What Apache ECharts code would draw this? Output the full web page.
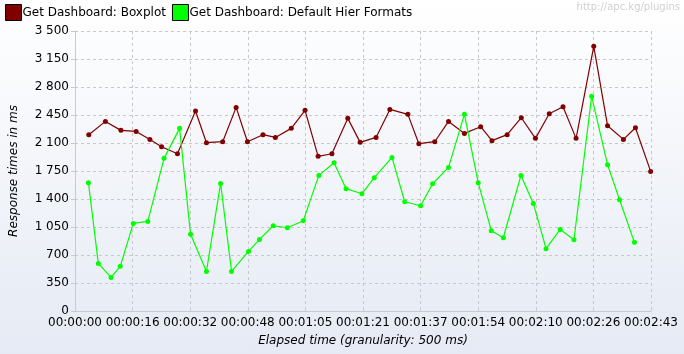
<!DOCTYPE html>
<html lang="en">
<head>
    <meta charset="UTF-8">
    <title>Response times</title>
    <script src="https://cdn.jsdelivr.net/npm/echarts@6/dist/echarts.min.js"></script>
    <style>
        html, body { margin: 0; padding: 0; }
        #main { width: 684px; height: 354px; background: linear-gradient(#ffffff, #e5eaf4); }
    </style>
</head>
<body>
<div id="main"></div>
<script type="text/javascript">
    // elapsed seconds and response times (ms)
    var boxplotTimes = [3.9, 8.6, 13.0, 17.3, 21.2, 24.5, 29.0, 34.1, 37.2, 41.8, 45.6, 48.8, 53.2,
        56.7, 61.2, 65.1, 68.8, 72.7, 77.2, 80.7, 85.2, 89.1, 94.2, 97.3, 101.8, 105.7, 110.2,
        114.8, 118.0, 122.3, 126.3, 130.3, 134.2, 138.1, 141.8, 146.8, 150.7, 155.2, 158.6, 162.9];
    var boxplotValues = [2204, 2370, 2258, 2245, 2145, 2054, 1966, 2500, 2104, 2116, 2545, 2116, 2204,
        2170, 2283, 2508, 1933, 1966, 2408, 2108, 2170, 2520, 2458, 2091, 2116, 2370, 2220,
        2304, 2129, 2204, 2416, 2158, 2466, 2554, 2158, 3308, 2316, 2145, 2291, 1745];

    var hierTimes = [3.8, 6.6, 10.2, 12.8, 16.5, 20.6, 25.2, 29.6, 32.7, 37.2, 41.2, 44.3, 49.1, 52.2,
        56.1, 60.1, 64.6, 69.0, 73.3, 76.7, 81.2, 84.7, 89.7, 93.3, 97.8, 101.2, 105.7, 110.2,
        114.1, 117.8, 121.2, 126.2, 129.7, 133.3, 137.3, 141.2, 146.2, 150.7, 154.1, 158.3];
    var hierValues = [1604, 595, 420, 558, 1095, 1120, 1908, 2283, 958, 495, 1595, 495, 745, 895,
        1066, 1041, 1129, 1695, 1854, 1529, 1466, 1666, 1920, 1366, 1316, 1591, 1795, 2458,
        1604, 1004, 916, 1695, 1345, 779, 1020, 891, 2683, 1829, 1391, 858];

    var xTickLabels = ['00:00:00', '00:00:16', '00:00:32', '00:00:48', '00:01:05', '00:01:21',
        '00:01:37', '00:01:54', '00:02:10', '00:02:26', '00:02:43'];

    function pairs(xs, ys) {
        var out = [];
        for (var i = 0; i < xs.length; i++) out.push([xs[i], ys[i]]);
        return out;
    }

    var font = 'DejaVu Sans';
    var axisGray = '#c6cad2';

    var myChart = echarts.init(document.getElementById('main'));

    var option = {
        animation: false,
        textStyle: { fontFamily: font },
        grid: { left: 73, right: 33, top: 31, bottom: 43 },
        legend: {
            left: 5, top: 4, padding: 0,
            icon: 'rect',
            itemWidth: 16, itemHeight: 16, itemGap: 6,
            textStyle: { fontSize: 12, color: '#000', padding: [0, 0, 0, -4] },
            itemStyle: { borderColor: '#000', borderWidth: 1 },
            data: ['Get Dashboard: Boxplot', 'Get Dashboard: Default Hier Formats']
        },
        graphic: [{
            type: 'text', right: 4, top: 2,
            style: { text: 'http://apc.kg/plugins', fill: '#d0d0d0', font: '10px ' + font }
        }],
        xAxis: {
            type: 'value',
            min: 0, max: 163, interval: 16.3,
            name: 'Elapsed time (granularity: 500 ms)',
            nameLocation: 'middle', nameGap: 24,
            nameTextStyle: { fontStyle: 'italic', fontSize: 12, color: '#000' },
            axisLine: { lineStyle: { color: axisGray } },
            axisTick: { inside: true, length: 4, lineStyle: { color: axisGray } },
            axisLabel: {
                color: '#000', fontSize: 12, margin: 6,
                formatter: function (v) { return xTickLabels[Math.round(v / 16.3)]; }
            },
            splitLine: { lineStyle: { color: '#c8c8c8', type: [3, 3] } }
        },
        yAxis: {
            type: 'value',
            min: 0, max: 3500, interval: 350,
            name: 'Response times in ms',
            nameLocation: 'middle', nameGap: 55,
            nameTextStyle: { fontStyle: 'italic', fontSize: 12, color: '#000' },
            axisLine: { show: true, lineStyle: { color: axisGray } },
            axisTick: { show: true, length: 4, lineStyle: { color: axisGray } },
            axisLabel: {
                color: '#000', fontSize: 12, margin: 6,
                formatter: function (v) { return String(v).replace(/\B(?=(\d{3})+(?!\d))/g, ' '); }
            },
            splitLine: { lineStyle: { color: '#c8c8c8', type: [3, 3] } }
        },
        series: [
            {
                name: 'Get Dashboard: Boxplot',
                type: 'line',
                color: '#800000',
                symbol: 'circle', symbolSize: 5,
                lineStyle: { width: 1.2 },
                data: pairs(boxplotTimes, boxplotValues)
            },
            {
                name: 'Get Dashboard: Default Hier Formats',
                type: 'line',
                color: '#00ff00',
                symbol: 'circle', symbolSize: 5,
                lineStyle: { width: 1.2 },
                data: pairs(hierTimes, hierValues)
            }
        ]
    };

    myChart.setOption(option);
</script>
</body>
</html>
